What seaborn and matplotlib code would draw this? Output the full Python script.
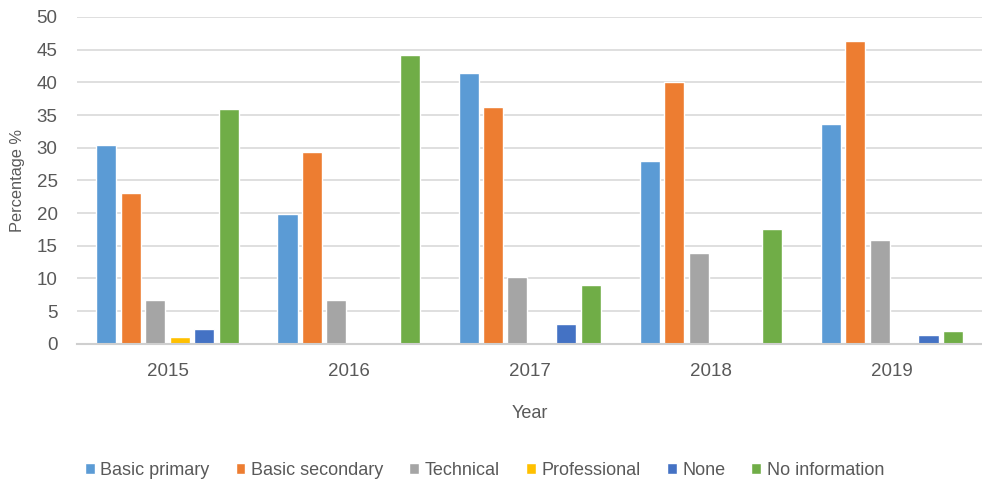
import matplotlib
matplotlib.use("Agg")
import matplotlib.pyplot as plt
import seaborn as sns
import pandas as pd

years = ["2015", "2016", "2017", "2018", "2019"]
categories = ["Basic primary", "Basic secondary", "Technical", "Professional", "None", "No information"]
basic_primary = [30.4, 19.9, 41.4, 27.9, 33.7]
basic_secondary = [23.0, 29.3, 36.2, 40.0, 46.3]
technical = [6.7, 6.7, 10.3, 13.9, 15.9]
professional = [1.1, 0.0, 0.0, 0.0, 0.3]
none_vals = [2.3, 0.0, 3.1, 0.3, 1.4]
no_information = [35.9, 44.1, 9.0, 17.5, 2.0]
colors = ["#5B9BD5", "#ED7D31", "#A5A5A5", "#FFC000", "#4472C4", "#70AD47"]

series = [basic_primary, basic_secondary, technical, professional, none_vals, no_information]
rows = []
for cat, vals in zip(categories, series):
    for y, v in zip(years, vals):
        rows.append({"Year": y, "Category": cat, "Value": v})
df = pd.DataFrame(rows)

sns.set_theme(style="white")
plt.rcParams['font.family'] = ['Liberation Sans', 'DejaVu Sans']

fig = plt.figure(figsize=(9.82, 4.83), dpi=100)
ax = fig.add_axes([0.0784, 0.288, 0.922, 0.677])
sns.barplot(data=df, x="Year", y="Value", hue="Category", hue_order=categories,
            palette=colors, width=0.81, gap=0.18, ax=ax, legend=True, errorbar=None,
            saturation=1)
ax.set_ylim(0, 50)
ax.set_yticks(range(0, 51, 5))
ax.yaxis.grid(True, color="#D9D9D9", linewidth=1.2)
ax.set_axisbelow(True)
for s in ["top", "right", "left"]:
    ax.spines[s].set_visible(False)
ax.spines["bottom"].set_color("#CFCFCF")
ax.spines["bottom"].set_linewidth(1.5)
ax.tick_params(axis="both", length=0, colors="#595959", labelsize=13.5)
ax.tick_params(axis="x", pad=14)
ax.tick_params(axis="y", pad=14)
ax.set_xlabel("Year", fontsize=13, color="#595959", labelpad=18)
ax.set_ylabel("Percentage %", fontsize=11.8, color="#595959", labelpad=8)

handles, labels = ax.get_legend_handles_labels()
ax.legend(handles, labels, loc="upper center", bbox_to_anchor=(0.45, -0.312), ncol=6,
          frameon=False, fontsize=13, handlelength=0.55, handleheight=0.55,
          handletextpad=0.3, columnspacing=1.45, labelcolor="#595959")
fig.savefig("out.png", dpi=100)
